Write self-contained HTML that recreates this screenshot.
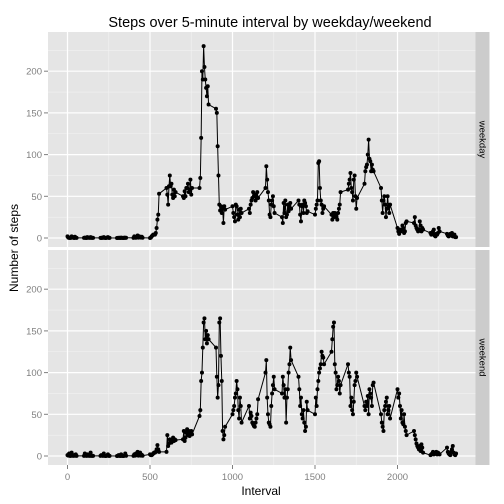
<!DOCTYPE html>
<html><head><meta charset="utf-8"><style>
body{margin:0;background:#fff}
svg{display:block;font-family:"Liberation Sans",sans-serif}
</style></head><body>
<svg id="chart" width="504" height="504"></svg>
<script>
const weekdaySteps=[
2,0.5,0.2,0.2,0.1,2,0.5,0.9,0,1.5,0.3,0.1,
0.2,0.5,0.1,0,1,0.3,0.4,0.2,1,0.1,0.3,0.2,
0.1,0,0.5,0.2,1,0.3,0,0.1,0.4,1,0.2,0.1,
0,0.2,0.1,0.3,0,0.5,0.1,0.2,0,0.4,0.1,0.3,
0.1,2,0.5,0.3,1,3,0.5,2,1,0.5,1.5,0.3,
0,0.5,2,3,4,4,4,6,12,22,28,53,
60,52,40,62,75,62,65,52,48,58,50,55,
50,48,56,50,60,60,65,55,58,70,52,60,
60,72,120,200,190,230,205,190,180,170,182,160,
155,150,110,75,40,33,38,30,35,18,38,34,
38,30,25,20,40,38,28,22,34,25,35,30,
35,30,40,45,48,55,50,52,45,50,55,48,
60,86,70,55,45,28,25,40,45,50,38,30,
25,18,42,30,45,25,28,40,32,38,42,35,
45,40,28,20,38,40,30,45,42,38,30,32,
28,35,40,45,90,92,60,45,40,30,35,38,
28,22,30,25,30,28,25,22,30,35,40,55,
58,65,70,78,60,55,45,70,75,50,35,48,
65,80,85,88,100,118,95,92,80,88,82,80,
60,45,30,45,50,40,25,35,50,38,30,40,
12,8,5,10,8,10,15,12,6,8,18,20,
18,25,15,12,10,8,10,20,15,8,12,10,
6,4,5,8,10,3,2,5,4,6,12,8,
5,3,2,4,5,3,6,2,3,4,1,1];
const weekendSteps=[
1,0.5,3,0.2,0.1,4,0.5,0.2,1,0.3,2,0.1,
0.2,3,0.5,0.1,2,0.3,0.4,0.2,4,0.1,0.3,0.2,
0.1,1,0.5,0.2,3,0.3,0,0.1,0.4,2,0.2,0.1,
0,0.2,1,0.3,0,2,0.1,0.2,0,0.4,3,0.3,
0.1,2,0.5,3,1,5,0.5,2,4,0.5,1.5,0.3,
2,1,1,2,3,4,4,5,8,13,8,5,
5,25,12,15,20,18,16,20,22,18,20,19,
20,30,18,22,28,32,25,30,24,28,30,26,
48,55,90,100,130,160,165,140,150,135,145,140,
130,95,70,85,160,165,120,90,30,20,25,35,
50,55,60,70,75,90,80,55,45,70,60,40,
60,45,52,48,40,38,36,35,40,45,50,68,
100,115,70,50,40,38,35,60,75,85,95,80,
75,95,85,70,80,40,70,80,100,110,130,115,
95,80,60,70,50,45,55,40,30,35,65,55,
50,70,60,80,90,100,105,110,125,120,118,110,
125,140,155,160,110,100,80,85,95,90,75,85,
110,100,95,60,70,55,50,65,85,90,100,95,
60,55,65,60,72,50,80,75,70,60,85,88,
50,40,35,30,55,60,65,70,50,55,60,45,
80,70,75,60,45,55,40,38,50,35,30,25,
30,25,20,15,12,10,8,12,6,14,10,4,
1,2,3,5,2,4,3,5,2,4,3,2,
10,5,3,2,1,5,8,12,4,2,1,3];
const panelNames=["weekday","weekend"];
const xTicks=[0,500,1000,1500,2000];
const yTicks=[0,50,100,150,200];
const NS="http://www.w3.org/2000/svg";
const svg=document.getElementById("chart");
function mk(t,a,p){const e=document.createElementNS(NS,t);for(const k in a)e.setAttribute(k,a[k]);(p||svg).appendChild(e);return e;}
const L=48,R=475.5;
const xs=v=>67.5+v*0.165;
const panels=[{top:32,bot:247,y0:238},{top:250,bot:465,y0:456}];
const series=[weekdaySteps,weekendSteps];
const t=mk("text",{x:270,y:27,"text-anchor":"middle","font-size":"14.5",fill:"#000"});
t.textContent="Steps over 5-minute interval by weekday/weekend";


panels.forEach((p,pi)=>{
  const ys=v=>p.y0-v*0.834;
  const g=mk("g",{});
  
  
  mk("rect",{x:L,y:p.top,width:R-L,height:p.bot-p.top,fill:"#e5e5e5"},g);
  for(let v=250;v<2500;v+=500){mk("line",{x1:xs(v),x2:xs(v),y1:p.top,y2:p.bot,stroke:"#f2f2f2","stroke-width":0.6},g);}
  for(let v=25;v<240;v+=50){mk("line",{x1:L,x2:R,y1:ys(v),y2:ys(v),stroke:"#f2f2f2","stroke-width":0.6},g);}
  xTicks.forEach(v=>mk("line",{x1:xs(v),x2:xs(v),y1:p.top,y2:p.bot,stroke:"#fff","stroke-width":1.2},g));
  yTicks.forEach(v=>{
    mk("line",{x1:L,x2:R,y1:ys(v),y2:ys(v),stroke:"#fff","stroke-width":1.2},g);
    mk("line",{x1:L-4,x2:L,y1:ys(v),y2:ys(v),stroke:"#7f7f7f","stroke-width":1},g);
    const tl=mk("text",{x:L-6,y:ys(v)+3.5,"text-anchor":"end","font-size":"9.5",fill:"#7f7f7f"},g);
    tl.textContent=v;
    
    
  });
  const s=mk("rect",{x:R,y:p.top,width:14,height:p.bot-p.top,fill:"#cccccc"},g);
  
  
  const cy=(p.top+p.bot)/2;
  const st=mk("text",{x:R+7,y:cy,"text-anchor":"middle","font-size":"9.5",fill:"#000",transform:`rotate(90 ${R+7} ${cy}) translate(0 3)`},g);
  st.textContent=panelNames[pi];
  
  
  const d=series[pi];
  let path="";
  d.forEach((v,i)=>{const iv=Math.floor(i/12)*100+(i%12)*5;path+=(i?"L":"M")+xs(iv).toFixed(2)+","+ys(v).toFixed(2);});
  const ln=mk("path",{d:path,fill:"none",stroke:"#000","stroke-width":1},g);
  
  
  d.forEach((v,i)=>{
    const iv=Math.floor(i/12)*100+(i%12)*5;
    const c=mk("circle",{cx:xs(iv),cy:ys(v),r:2,fill:"#000"},g);
    
    
  });
});
xTicks.forEach(v=>{
  mk("line",{x1:xs(v),x2:xs(v),y1:465,y2:469,stroke:"#7f7f7f","stroke-width":1});
  const tl=mk("text",{x:xs(v),y:480,"text-anchor":"middle","font-size":"9.5",fill:"#7f7f7f"});
  tl.textContent=v;
  
  
});
const xt=mk("text",{x:261,y:495,"text-anchor":"middle","font-size":"12",fill:"#000"});
xt.textContent="Interval";


const yt=mk("text",{x:18,y:248,"text-anchor":"middle","font-size":"12",fill:"#000",transform:"rotate(-90 18 248)"});
yt.textContent="Number of steps";


</script>
</body></html>
